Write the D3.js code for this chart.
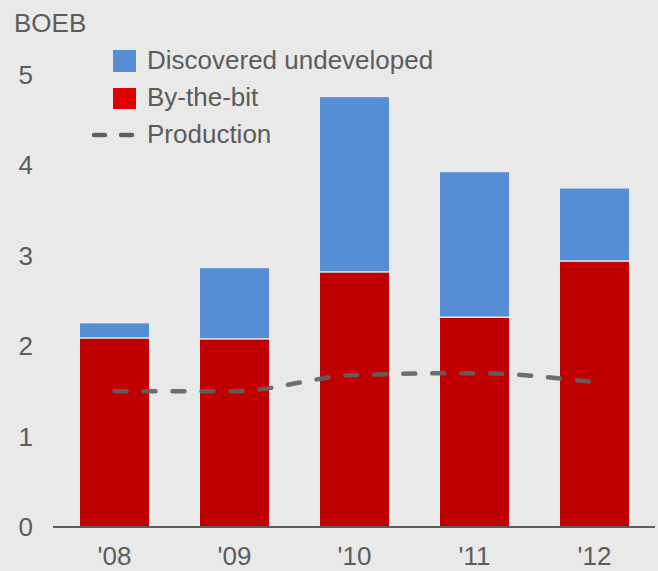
<!DOCTYPE html>
<html>
<head>
<meta charset="utf-8">
<script src="https://cdn.jsdelivr.net/npm/d3@7"></script>
<style>
  html, body { margin: 0; padding: 0; background: #e9e9e9; }
  svg { display: block; }
  text { font-family: "Liberation Sans", Arial, sans-serif; fill: #5c5c5c; }
</style>
</head>
<body>
<svg id="chart" width="658" height="571"></svg>
<script>
// Reserve additions by year, billion barrels of oil equivalent
const years = ["'08", "'09", "'10", "'11", "'12"];
const byTheBit = [2.08, 2.07, 2.81, 2.31, 2.93];
const discoveredUndeveloped = [0.17, 0.79, 1.94, 1.61, 0.81];
const production = [1.5, 1.5, 1.68, 1.7, 1.6];
const yTicks = [0, 1, 2, 3, 4, 5];
const seriesNames = ["Discovered undeveloped", "By-the-bit", "Production"];

const colors = { red: "#c00000", blue: "#558ed5", line: "#606060", text: "#5c5c5c" };

const svg = d3.select("#chart");
const baseY = 527;
const fontSize = 26;

const x = d3.scaleBand()
  .domain(years)
  .range([54.5, 654.5])
  .paddingInner(0.425)
  .paddingOuter(0.2125);

const y = d3.scaleLinear().domain([0, 5]).range([baseY, 74.5]);

// Stacked bars: by-the-bit at the bottom, discovered undeveloped on top
const rows = years.map((yr, i) => ({ year: yr, bit: byTheBit[i], du: discoveredUndeveloped[i] }));
const stack = d3.stack().keys(["bit", "du"])(rows);
const fills = { bit: colors.red, du: colors.blue };

svg.append("g").selectAll("g")
  .data(stack)
  .join("g")
  .attr("fill", d => fills[d.key])
  .selectAll("rect")
  .data(d => d.map(p => ({ key: d.key, p })))
  .join("rect")
  .attr("x", d => x(d.p.data.year))
  .attr("width", x.bandwidth())
  .attr("y", d => y(d.p[1]))
  .attr("height", d => y(d.p[0]) - y(d.p[1]) - (d.key === "du" ? 1.5 : 0));

// Baseline
svg.append("line")
  .attr("x1", 53).attr("x2", 655)
  .attr("y1", baseY).attr("y2", baseY)
  .attr("stroke", colors.text).attr("stroke-width", 2);

// Production line
const line = d3.line()
  .x((d, i) => x(years[i]) + x.bandwidth() / 2)
  .y(d => y(d))
  .curve(d3.curveMonotoneX);

svg.append("path")
  .datum(production)
  .attr("d", line)
  .attr("fill", "none")
  .attr("stroke", colors.line)
  .attr("stroke-width", 4.5)
  .attr("stroke-linecap", "round")
  .attr("stroke-dasharray", "12,17")
  .attr("opacity", 0.9);

// Y tick labels
svg.append("g").selectAll("text")
  .data(yTicks)
  .join("text")
  .attr("x", 33)
  .attr("y", d => y(d))
  .attr("dy", "0.36em")
  .attr("text-anchor", "end")
  .attr("font-size", fontSize)
  .text(d => d);

// X labels
svg.append("g").selectAll("text")
  .data(years)
  .join("text")
  .attr("x", d => x(d) + x.bandwidth() / 2)
  .attr("y", 565)
  .attr("text-anchor", "middle")
  .attr("font-size", fontSize)
  .text(d => d);

// Unit label
svg.append("text")
  .attr("x", 14).attr("y", 32)
  .attr("font-size", fontSize)
  .text("BOEB");

// Legend
const legend = svg.append("g");
legend.append("rect").attr("x", 113).attr("y", 50).attr("width", 23).attr("height", 22).attr("fill", colors.blue);
legend.append("rect").attr("x", 113).attr("y", 88).attr("width", 23).attr("height", 21).attr("fill", "#e00000");
legend.append("line")
  .attr("x1", 94).attr("x2", 136).attr("y1", 135).attr("y2", 135)
  .attr("stroke", colors.line).attr("stroke-width", 4.5)
  .attr("stroke-linecap", "round")
  .attr("stroke-dasharray", "11,16");
legend.selectAll("text.lg")
  .data(seriesNames)
  .join("text")
  .attr("class", "lg")
  .attr("x", 147)
  .attr("y", (d, i) => 69 + i * 37)
  .attr("font-size", fontSize)
  .text(d => d);
</script>
</body>
</html>
